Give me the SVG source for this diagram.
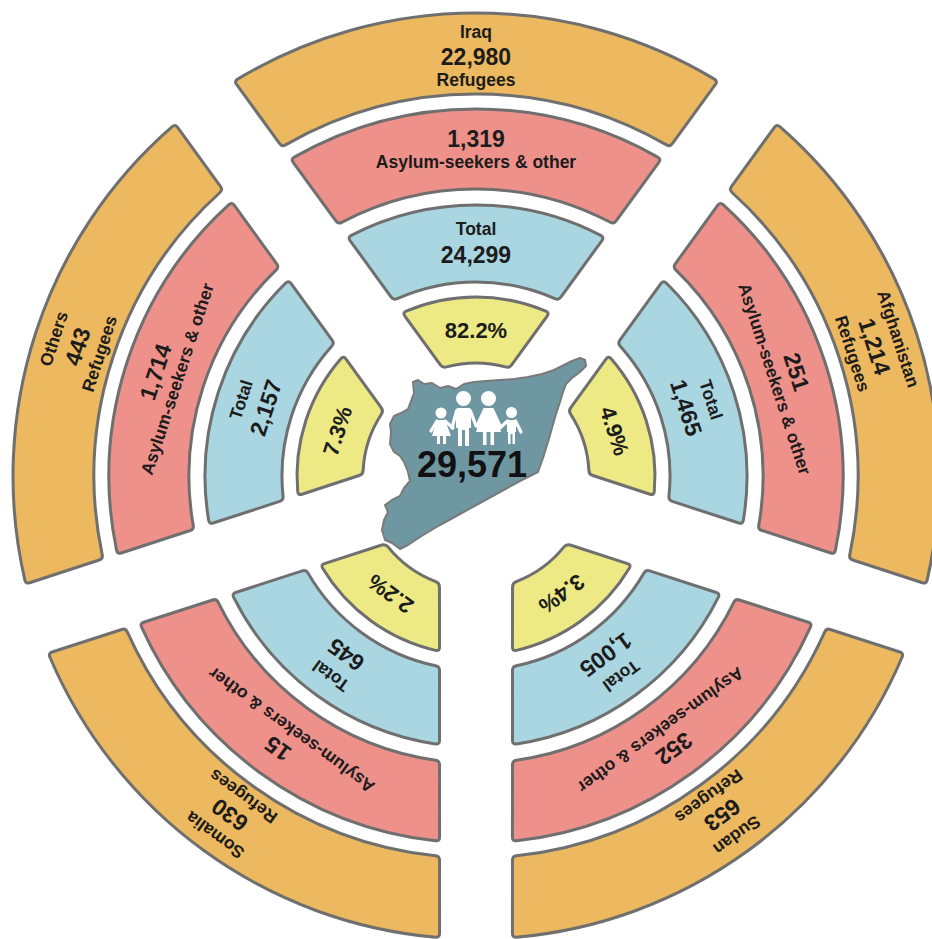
<svg xmlns="http://www.w3.org/2000/svg" xmlns:xlink="http://www.w3.org/1999/xlink" width="932" height="939" viewBox="0 0 932 939">
<style>
.seg{stroke:#6f6f6f;stroke-width:3;stroke-linejoin:round}
.o{fill:#ECB960}
.p{fill:#EF918B}
.b{fill:#A9D6E0}
.y{fill:#EDE985}
text{font-family:"Liberation Sans",Arial,Helvetica,sans-serif;font-weight:bold;fill:#1c1c1c;text-anchor:middle}
.lab{font-size:17.5px}
.num{font-size:23px}
.pct{font-size:22px}
.fam{fill:#ffffff}
.arm{stroke:#ffffff;stroke-width:3.2;stroke-linecap:round;fill:none}
</style>
<defs>
<path id="ringY" d="M406.2,311.2 A179,179 0 0 1 545.8,311.2 Q549.5,312.8 547.15,316.04 L511.65,364.76 Q509.3,368.0 505.5,366.9 A113,113 0 0 0 446.5,366.9 Q442.7,368.0 440.35,364.76 L404.85,316.04 Q402.5,312.8 406.2,311.2 Z"/>
<path id="ringB" d="M351.3,235.4 A271,271 0 0 1 600.7,235.4 Q604.3,237.3 601.95,240.54 L560.85,297.16 Q558.5,300.4 554.8,298.7 A194,194 0 0 0 397.2,298.7 Q393.5,300.4 391.15,297.16 L350.05,240.54 Q347.7,237.3 351.3,235.4 Z"/>
<path id="ringP" d="M294.3,157.1 A367,367 0 0 1 657.7,157.1 Q661.2,159.1 658.85,162.34 L616.15,220.96 Q613.8,224.2 610.3,222.3 A287,287 0 0 0 341.7,222.3 Q338.2,224.2 335.85,220.96 L293.15,162.34 Q290.8,159.1 294.3,157.1 Z"/>
<path id="ringO" d="M237.6,79.1 A463,463 0 0 1 714.4,79.1 Q717.8,81.2 715.45,84.44 L672.35,143.66 Q670.0,146.9 666.5,144.9 A382,382 0 0 0 285.5,144.9 Q282.0,146.9 279.65,143.66 L236.55,84.44 Q234.2,81.2 237.6,79.1 Z"/>
</defs>
<rect width="932" height="939" fill="#ffffff"/>

<g id="iraq">
 <g id="iraq-refugees"><use href="#ringO" class="seg o"/><text class="lab" x="476" y="38">Iraq</text><text class="num" x="476" y="65">22,980</text><text class="lab" x="476" y="86">Refugees</text></g>
 <g id="iraq-asylum"><use href="#ringP" class="seg p"/><text class="num" x="476" y="147">1,319</text><text class="lab" x="476" y="168">Asylum-seekers &amp; other</text></g>
 <g id="iraq-total"><use href="#ringB" class="seg b"/><text class="lab" x="476" y="235">Total</text><text class="num" x="476" y="263">24,299</text></g>
 <g id="iraq-share"><use href="#ringY" class="seg y"/><text class="pct" x="476" y="338">82.2%</text></g>
</g>

<g id="afghanistan" transform="rotate(72 476 476)">
 <g id="afghanistan-refugees"><use href="#ringO" class="seg o"/><text class="lab" x="476" y="38">Afghanistan</text><text class="num" x="476" y="65">1,214</text><text class="lab" x="476" y="86">Refugees</text></g>
 <g id="afghanistan-asylum"><use href="#ringP" class="seg p"/><text class="num" x="476" y="147">251</text><text class="lab" x="476" y="168">Asylum-seekers &amp; other</text></g>
 <g id="afghanistan-total"><use href="#ringB" class="seg b"/><text class="lab" x="476" y="235">Total</text><text class="num" x="476" y="263">1,465</text></g>
 <g id="afghanistan-share"><use href="#ringY" class="seg y"/><text class="pct" x="476" y="338">4.9%</text></g>
</g>

<g id="sudan" transform="rotate(144 476 476)">
 <g id="sudan-refugees"><use href="#ringO" class="seg o"/><text class="lab" x="476" y="38">Sudan</text><text class="num" x="476" y="65">653</text><text class="lab" x="476" y="86">Refugees</text></g>
 <g id="sudan-asylum"><use href="#ringP" class="seg p"/><text class="num" x="476" y="147">352</text><text class="lab" x="476" y="168">Asylum-seekers &amp; other</text></g>
 <g id="sudan-total"><use href="#ringB" class="seg b"/><text class="lab" x="476" y="235">Total</text><text class="num" x="476" y="263">1,005</text></g>
 <g id="sudan-share"><use href="#ringY" class="seg y"/><text class="pct" x="476" y="338">3.4%</text></g>
</g>

<g id="somalia" transform="rotate(216 476 476)">
 <g id="somalia-refugees"><use href="#ringO" class="seg o"/><text class="lab" x="476" y="38">Somalia</text><text class="num" x="476" y="65">630</text><text class="lab" x="476" y="86">Refugees</text></g>
 <g id="somalia-asylum"><use href="#ringP" class="seg p"/><text class="num" x="476" y="147">15</text><text class="lab" x="476" y="168">Asylum-seekers &amp; other</text></g>
 <g id="somalia-total"><use href="#ringB" class="seg b"/><text class="lab" x="476" y="235">Total</text><text class="num" x="476" y="263">645</text></g>
 <g id="somalia-share"><use href="#ringY" class="seg y"/><text class="pct" x="476" y="338">2.2%</text></g>
</g>

<g id="others" transform="rotate(288 476 476)">
 <g id="others-refugees"><use href="#ringO" class="seg o"/><text class="lab" x="476" y="38">Others</text><text class="num" x="476" y="65">443</text><text class="lab" x="476" y="86">Refugees</text></g>
 <g id="others-asylum"><use href="#ringP" class="seg p"/><text class="num" x="476" y="147">1,714</text><text class="lab" x="476" y="168">Asylum-seekers &amp; other</text></g>
 <g id="others-total"><use href="#ringB" class="seg b"/><text class="lab" x="476" y="235">Total</text><text class="num" x="476" y="263">2,157</text></g>
 <g id="others-share"><use href="#ringY" class="seg y"/><text class="pct" x="476" y="338">7.3%</text></g>
</g>

<g id="syria">
 <path fill="#6F97A1" stroke="#7a7a7a" stroke-width="2" stroke-linejoin="round" d="M413,382 L418,380 L424,384 L432,383 L440,388 L448,386 L456,389 L464,384 L474,382 L486,381 L500,380 L514,379 L528,377 L542,374 L554,370 L564,365 L572,361 L580,358 L585,360 L586,366 L580,372 L572,378 L566,384 L563,392 L560,402 L556,414 L552,428 L548,442 L543,458 L538,472 L520,481 L500,492 L480,503 L460,514 L440,525 L420,537 L408,545 L400,549 L396,546 L392,543 L385,540 L382,530 L384,520 L388,512 L385,505 L392,500 L400,496 L404,488 L410,481 L408,472 L404,462 L400,456 L394,452 L390,444 L391,432 L390,424 L394,416 L401,413 L408,409 L411,401 L414,393 Z"/>
 <g id="family">
  <circle class="fam" cx="441" cy="413" r="5.5"/>
  <path class="fam" d="M437,420 L445,420 L451,436 L446,436 L446,444 L443,444 L443,436 L440,436 L440,444 L437,444 L437,436 L432,436 Z"/>
  <line class="arm" x1="437" y1="421" x2="431" y2="431"/>
  <line class="arm" x1="445" y1="421" x2="453" y2="428"/>
  <circle class="fam" cx="463.5" cy="398.5" r="7.5"/>
  <path class="fam" d="M456,410 Q456,408 458,408 L469,408 Q471,408 471,410 L471,428 L469,428 L469,446 L465,446 L465,430 L462,430 L462,446 L458,446 L458,428 L456,428 Z"/>
  <line class="arm" x1="456.5" y1="411" x2="452" y2="428"/>
  <line class="arm" x1="470.5" y1="411" x2="476" y2="426"/>
  <circle class="fam" cx="488.5" cy="398.5" r="7.5"/>
  <path class="fam" d="M483.5,408 L493.5,408 L501,432 L494,432 L494,445 L490.5,445 L490.5,432 L486.5,432 L486.5,445 L483,445 L483,432 L476,432 Z"/>
  <line class="arm" x1="484" y1="411" x2="477" y2="426"/>
  <line class="arm" x1="493" y1="411" x2="500" y2="426"/>
  <circle class="fam" cx="511.5" cy="412.5" r="5.5"/>
  <path class="fam" d="M507,420 L516,420 L516,432 L515,432 L515,444 L512.5,444 L512.5,434 L510.5,434 L510.5,444 L508,444 L508,432 L507,432 Z"/>
  <line class="arm" x1="507.5" y1="421" x2="500" y2="428"/>
  <line class="arm" x1="515.5" y1="421" x2="521" y2="432"/>
 </g>
 <text x="472" y="477" style="font-size:36px;fill:#111111">29,571</text>
</g>
</svg>
